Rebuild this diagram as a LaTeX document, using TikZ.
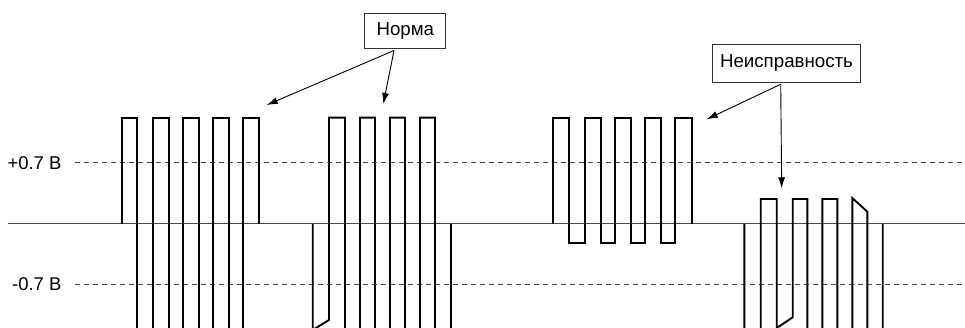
\documentclass[tikz,border=0pt]{standalone}
\usepackage{fontspec}
\setmainfont{Liberation Sans}
\usetikzlibrary{arrows.meta}
\begin{document}
\begin{tikzpicture}[x=1pt,y=-1pt,
  wave/.style={line width=1.9pt,black,line join=miter},
  baseln/.style={line width=1pt,black!70},
  dashln/.style={line width=1pt,black!70,dash pattern=on 5pt off 4pt},
  lblbox/.style={draw=black!80,line width=1pt,fill=white,inner sep=0pt,font=\fontsize{18.7}{21}\selectfont},
  vlbl/.style={inner sep=0pt,anchor=east,font=\fontsize{18.5}{21}\selectfont},
  pointer/.style={line width=0.9pt,black,-{Latex[length=11pt,width=7pt]}}]
\useasboundingbox (0,0) rectangle (965,328);
\clip (0,0) rectangle (965,328);
% reference lines
\draw[baseln] (8,224) -- (965,224);
\draw[dashln] (75,162.7) -- (965,162.7);
\draw[dashln] (75,284.3) -- (965,284.3);
\node[vlbl] (plus) at (61.7,163) {+0.7 В};
\node[vlbl] (minus) at (61.7,284.5) {-0.7 В};
% group 1
\draw[wave] (121.7,224) -- (121.7,117.7) -- (137.3,117.7) -- (137.3,340) -- (153.3,340) -- (153.3,117.7) -- (169.3,117.7) -- (169.3,340) -- (183.3,340) -- (183.3,117.7) -- (199.3,117.7) -- (199.3,340) -- (213.3,340) -- (213.3,117.7) -- (229.3,117.7) -- (229.3,340) -- (243.3,340) -- (243.3,117.7) -- (259,117.7) -- (259,224);
% group 2
\draw[wave] (312.7,224) -- (312.7,330) -- (329,320) -- (329,117.7) -- (345,117.7) -- (345,340) -- (360,340) -- (360,117.7) -- (375,117.7) -- (375,340) -- (390,340) -- (390,117.7) -- (405,117.7) -- (405,340) -- (420,340) -- (420,117.7) -- (435,117.7) -- (435,340) -- (451,340) -- (451,224);
% group 3
\draw[wave] (552.7,224) -- (552.7,117.7) -- (569,117.7) -- (569,242.7) -- (585,242.7) -- (585,117.7) -- (600.7,117.7) -- (600.7,242.7) -- (615,242.7) -- (615,117.7) -- (630.7,117.7) -- (630.7,242.7) -- (645,242.7) -- (645,117.7) -- (660.7,117.7) -- (660.7,242.7) -- (675,242.7) -- (675,117.7) -- (691.7,117.7) -- (691.7,224);
% group 4
\draw[wave] (744.3,224) -- (744.3,340) -- (760.7,340) -- (760.7,199) -- (776.7,199) -- (776.7,328) -- (792.7,317.3) -- (792.7,199) -- (807.3,199) -- (807.3,340) -- (822.3,340) -- (822.3,199) -- (837.3,199) -- (837.3,340) -- (852.3,340) -- (852.3,198) -- (867.3,211.7) -- (867.3,340) -- (882.7,340) -- (882.7,224);
% labels
\node[lblbox,minimum width=80.7pt,minimum height=35pt] (norma) at (405.3,31.5) {Норма};
\node[lblbox,minimum width=148.4pt,minimum height=38.5pt] (fault) at (786.5,63.5) {Неисправность};
\coordinate (nA) at (266.7,105);
\coordinate (nB) at (383.3,104);
\coordinate (fA) at (706.7,119.3);
\coordinate (fB) at (781.7,188.3);
\draw[pointer] ([xshift=-11.3pt,yshift=-1pt]norma.south) -- (nA);
\draw[pointer] ([xshift=-11.3pt,yshift=-1pt]norma.south) -- (nB);
\draw[pointer] ([xshift=-5.8pt,yshift=-1pt]fault.south) -- (fA);
\draw[pointer] ([xshift=-5.8pt,yshift=-1pt]fault.south) -- (fB);
\end{tikzpicture}
\end{document}
